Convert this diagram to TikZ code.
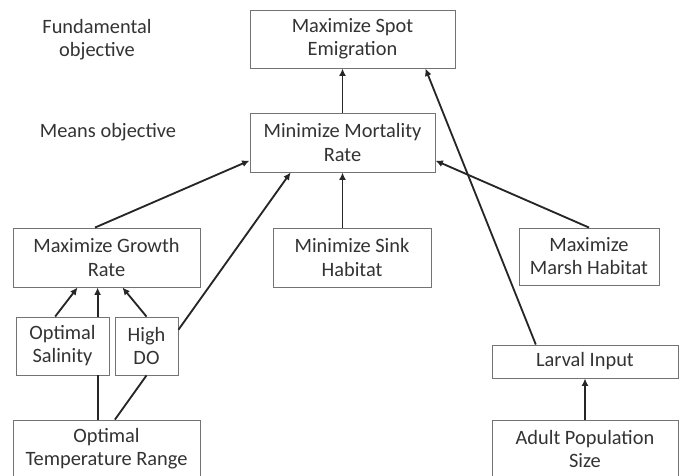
\documentclass[tikz,border=0pt]{standalone}
\usepackage{fontspec}
\setmainfont{Carlito}
\usetikzlibrary{arrows.meta,positioning}

\begin{document}
\begin{tikzpicture}
	[x=0.02cm,y=-0.02cm,
		font=\fontsize{11.6}{13.1}\selectfont,
		objbox/.style={rectangle, draw=black!55, fill=white, line width=0.5pt, text=black!80, align=center, inner sep=0pt},
		labeltext/.style={text=black!80, align=center, inner sep=0pt},
		arr/.style={-{Latex[length=1.5mm,width=1.4mm]}, line width=1.05pt, draw=black!85},
		plain/.style={line width=1.05pt, draw=black!85},
	]
	\clip (0,0) rectangle (683,476);
	\useasboundingbox (0,0) rectangle (683,476);

	\node [labeltext] (fundtext) at(97,40) {Fundamental\\objective};
	\node [labeltext] (meanstext) at(108,132) {Means objective};

	\node[objbox, minimum width=4.1cm, minimum height=1.16cm] (spot) at(352.5,39) {Maximize Spot\\Emigration};
	\node[objbox, minimum width=3.7cm, minimum height=1.18cm] (mort) at(342.5,142.5) {Minimize Mortality\\Rate};

	\node[objbox, minimum width=3.74cm, minimum height=1.18cm] (growth) at(106.5,257.5) {Maximize Growth\\Rate};
	\node[objbox, minimum width=3.16cm, minimum height=1.18cm] (sink) at(352,257.5) {Minimize Sink\\Habitat};
	\node[objbox, minimum width=2.8cm, minimum height=1.14cm] (marsh) at(589,256.5) {Maximize\\Marsh Habitat};

	\node[objbox, minimum width=1.86cm, minimum height=1.16cm] (salin) at(62.5,346) {Optimal\\Salinity};
	\node[objbox, minimum width=1.26cm, minimum height=1.16cm] (highdo) at(146.5,346) {High\\DO};
	\node[objbox, minimum width=3.72cm, minimum height=0.66cm] (larval) at(585,361.5) {Larval Input};

	\node[objbox, minimum width=3.74cm, minimum height=1.16cm] (temp) at(106.5,449) {Optimal\\Temperature Range};
	\node[objbox, minimum width=3.72cm, minimum height=1.16cm] (adult) at(585,449) {Adult Population\\Size};

	\draw[arr] (mort.north) -- (mort.north |- spot.south);
	\draw[arr] (larval.161) -- (spot.-22);

	\draw[arr] (growth.111) -- (mort.191);
	\draw[arr] (highdo.27) -- (mort.210);
	\draw[arr] (mort.south |- sink.north) -- (mort.south);
	\draw[arr] (marsh.north) -- (mort.-11);

	\draw[arr] (salin.104) -- (growth.226);
	\draw[arr] (salin.40) -- (salin.40 |- growth.south);
	\draw[arr] (highdo.north) -- (growth.-62);

	\draw[plain] (salin.-40 |- temp.north) -- (salin.-40);
	\draw[plain] (temp.74) -- (highdo.south);
	\draw[arr] (adult.north) -- (larval.south);

\end{tikzpicture}
\end{document}
